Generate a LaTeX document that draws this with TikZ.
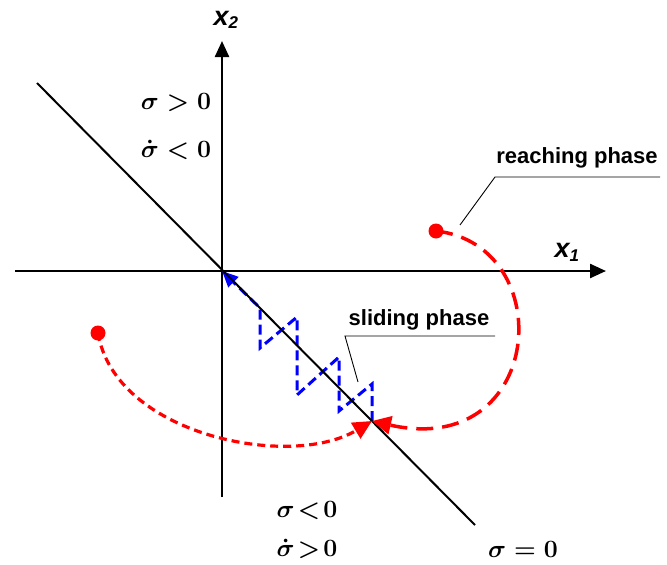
\documentclass[tikz,border=0pt]{standalone}
\usepackage{amsmath, amssymb}
\usepackage{fontspec}
\setmainfont{Liberation Sans}
\usepackage{tikz}
\usetikzlibrary{arrows.meta, positioning}
\usepackage{xcolor}
\definecolor{reachRed}{RGB}{255, 0, 0}
\definecolor{slideBlue}{RGB}{0, 0, 255}

\begin{document}
\begin{tikzpicture}[x=1pt, y=-1pt,
  axis/.style={line width=2.4pt, -{Triangle[length=16pt, width=14pt]}},
  reach/.style={draw=reachRed, line width=3.5pt, -{Triangle[length=19pt, width=18pt]}},
  slide/.style={draw=slideBlue, line width=3pt, dash pattern=on 10pt off 5pt,
    -{Triangle[length=16pt, width=14pt]}},
  leader/.style={draw, line width=0.9pt},
  phase/.style={font=\fontsize{22}{24}\selectfont\bfseries},
  cond/.style={font=\fontsize{27}{28}\selectfont\boldmath, inner sep=0pt},
  axlabel/.style={font=\fontsize{27}{28}\selectfont\bfseries\itshape},
  dot/.style={circle, fill=reachRed, inner sep=0pt, minimum size=15pt}]
  \useasboundingbox (0,0) rectangle (667,565);

  % axes and switching line
  \coordinate (O) at (222,271);
  \coordinate (x1s) at (15,271);
  \coordinate (x1e) at (606,271);
  \coordinate (x2s) at (222,497);
  \coordinate (x2e) at (222,41);
  \coordinate (sTop) at (37,83);
  \coordinate (sBot) at (475,525);
  \coordinate (P) at (372,421);
  \draw[axis] (x1s) -- (x1e);
  \draw[axis] (x2s) -- (x2e);
  \node[axlabel] (x1) at (567,252) {x\textsubscript{\fontsize{17}{17}\selectfont 1}};
  \node[axlabel] (x2) at (226,20) {x\textsubscript{\fontsize{17}{17}\selectfont 2}};

  % sliding phase (chattering)
  \draw[slide] (P) -- (372,384) -- (339,411) -- (339,357) -- (297,395)
    -- (297,317) -- (260,348) -- (260,308) -- (O);
  \draw[line width=2pt] (sTop) -- (sBot);

  % reaching phase
  \node[dot] (r1) at (436,231) {};
  \node[dot] (r2) at (98,333) {};
  \draw[reach, dash pattern=on 17pt off 9pt]
    (r1.center) .. controls (560,245) and (545,460) .. (P);
  \draw[reach, line width=3.2pt, dash pattern=on 8pt off 5pt]
    (r2.center) .. controls (115,435) and (290,470) .. (P);

  % labels
  \node[phase] (reachTxt) at (577,158) {reaching phase};
  \coordinate (rk) at (495,177);
  \draw[leader] (660,177) -- (rk) -- (460,225);
  \node[phase] (slideTxt) at (419,320) {sliding phase};
  \coordinate (sk) at (345,336);
  \draw[leader] (495,336) -- (sk) -- (358,382);

  \node[cond] (c1) at (176,103) {$\boldsymbol{\sigma} > 0$};
  \node[cond] (c2) at (176,150) {$\dot{\boldsymbol{\sigma}} < 0$};
  \node[cond] (c3) at (307,511) {$\boldsymbol{\sigma}\!<\!0$};
  \node[cond] (c4) at (307,549) {$\dot{\boldsymbol{\sigma}}\!>\!0$};
  \node[cond] (c5) at (523,549) {$\boldsymbol{\sigma} = 0$};
\end{tikzpicture}
\end{document}
